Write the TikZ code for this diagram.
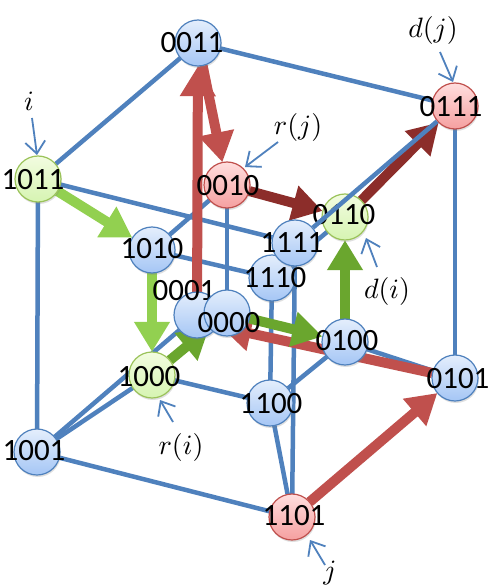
\documentclass[tikz,border=0pt]{standalone}
\usepackage{fontspec}
\newfontfamily\labfont{Carlito}
\usetikzlibrary{arrows.meta,shadows}
\definecolor{eblue}{RGB}{79,129,189}
\definecolor{ered}{RGB}{192,80,77}
\definecolor{edred}{RGB}{140,45,42}
\definecolor{elgreen}{RGB}{146,208,80}
\definecolor{edgreen}{RGB}{106,166,46}
\definecolor{bnTop}{RGB}{228,238,252}
\definecolor{bnBot}{RGB}{165,198,245}
\definecolor{gnTop}{RGB}{242,252,224}
\definecolor{gnBot}{RGB}{214,244,178}
\definecolor{gnLine}{RGB}{155,195,90}
\definecolor{rnTop}{RGB}{255,222,222}
\definecolor{rnBot}{RGB}{245,160,160}
\newcommand\hcnode[6]{\node[#2] (n#1) at (#3,#4) {}; \node[lbl] (t#1) at (#5,#6) {#1};}
\begin{document}
\begin{tikzpicture}[x=1pt,y=-1pt,
  nd/.style={circle, minimum size=46pt, inner sep=0pt, line width=1.2pt,
    drop shadow={opacity=0.25, shadow xshift=0.8pt, shadow yshift=-2pt}},
  bn/.style={nd, draw=eblue, top color=bnTop, bottom color=bnBot},
  gn/.style={nd, draw=gnLine, top color=gnTop, bottom color=gnBot},
  rn/.style={nd, draw=ered, top color=rnTop, bottom color=rnBot},
  lbl/.style={font=\labfont\fontsize{31}{31}\selectfont, inner sep=0pt, text=black},
  mlbl/.style={scale=2.8, inner sep=0pt},
  edge/.style={draw=eblue, line width=4.5pt},
  fat/.style={line width=10pt, -{Triangle[length=30pt,width=34pt]}},
  redarr/.style={fat, draw=ered},
  dredarr/.style={fat, draw=edred},
  lgarr/.style={fat, draw=elgreen},
  dgarr/.style={fat, draw=edgreen},
  ann/.style={draw=eblue, line width=1.8pt, -{Straight Barb[length=12pt,width=20pt]}}
]
\useasboundingbox[fill=white] (0,0) rectangle (491,588);
% invisible placeholder nodes for edge routing
\begin{scope}[every node/.style={circle, minimum size=46pt, inner sep=0pt}]
\node (e0011) at (198,43) {};
\node (e0111) at (455,106) {};
\node (e1011) at (38,179) {};
\node (e0010) at (227,185) {};
\node (e0110) at (345,217) {};
\node (e1111) at (295,243) {};
\node (e1010) at (152,250) {};
\node (e1110) at (272,278) {};
\node (e0001) at (197,315) {};
\node (e0000) at (227,313) {};
\node (e0100) at (345,342) {};
\node (e1000) at (152,375) {};
\node (e0101) at (455,378) {};
\node (e1100) at (270,403) {};
\node (e1001) at (37,452) {};
\node (e1101) at (292,517) {};
\end{scope}
\coordinate (rtip) at (221,327);
% blue edges
\draw[edge] (e0011) -- (e0111);
\draw[edge] (e0011) -- (e1011);
\draw[edge] (e1011) -- (e1111);
\draw[edge] (e0111) -- (e0101);
\draw[edge] (e1011) -- (e1001);
\draw[edge] (e1111) -- (e1101);
\draw[edge] (e1001) -- (e0001);
\draw[edge] (e1001) -- (e1101);
\draw[edge] (e0010) -- (e0000);
\draw[edge] (e0010) -- (e1010);
\draw[edge] (e1000) -- (e1100);
\draw[edge] (e1010) -- (e1110);
\draw[edge] (e1110) -- (e1100);
\draw[edge] (e0110) -- (e1110);
\draw[edge] (e0100) -- (e0101);
\draw[edge] (e1000) -- (e1001);
\draw[edge] (e1100) -- (e1101);
\draw[edge] (e0100) -- (e1100);
% thick arrows
\draw[redarr] (e1101) -- (e0101);
\draw[redarr] (e0101) -- (rtip);
\draw[redarr] (e0001) -- (e0011);
\draw[redarr] (e0011) -- (e0010);
\draw[dredarr] (e0010) -- (e0110);
\draw[dredarr] (e0110) -- (e0111);
\draw[lgarr] (e1011) -- (e1010);
\draw[lgarr] (e1010) -- (e1000);
\draw[dgarr] (e1000) -- (e0000);
\draw[dgarr] (e0000) -- (e0100);
\draw[dgarr] (e0100) -- (e0110);
% visible nodes
\hcnode{0011}{bn}{198}{43}{192}{43}
\hcnode{0111}{rn}{455}{106}{451}{107}
\hcnode{1011}{gn}{38}{179}{33}{180}
\hcnode{0010}{rn}{227}{185}{228}{186}
\hcnode{0110}{gn}{345}{217}{344}{215}
\hcnode{1010}{bn}{152}{250}{152}{249}
\hcnode{1110}{bn}{272}{278}{275}{278}
\hcnode{1111}{bn}{295}{243}{292}{243}
\hcnode{0001}{bn}{197}{315}{184}{291}
\hcnode{0000}{bn}{227}{313}{229}{323}
\hcnode{0100}{bn}{345}{342}{347}{341}
\hcnode{1000}{gn}{152}{375}{149}{377}
\hcnode{0101}{bn}{455}{378}{458}{379}
\hcnode{1100}{bn}{270}{403}{271}{404}
\hcnode{1001}{bn}{37}{452}{34}{451}
\hcnode{1101}{rn}{292}{517}{294}{516}
% edge drawn over node 0110
\draw[edge] (n1111) -- (n0111);
% annotations
\node[mlbl] (li) at (29,101) {$i$};
\node[mlbl] (ldj) at (433,31) {$d(j)$};
\node[mlbl] (lrj) at (298,128) {$r(j)$};
\node[mlbl] (ldi) at (387,291) {$d(i)$};
\node[mlbl] (lri) at (181,447) {$r(i)$};
\node[mlbl] (lj) at (330,573) {$j$};
\coordinate (ai1) at (32,118); \coordinate (ai2) at (37,155);
\coordinate (adj1) at (440,52); \coordinate (adj2) at (453,82);
\coordinate (arj1) at (278,142); \coordinate (arj2) at (245,167);
\coordinate (adi1) at (377,267); \coordinate (adi2) at (366,238);
\coordinate (ari1) at (173,422); \coordinate (ari2) at (160,400);
\coordinate (aj1) at (325,565); \coordinate (aj2) at (310,540);
\draw[ann] (ai1) -- (ai2);
\draw[ann] (adj1) -- (adj2);
\draw[ann] (arj1) -- (arj2);
\draw[ann] (adi1) -- (adi2);
\draw[ann] (ari1) -- (ari2);
\draw[ann] (aj1) -- (aj2);
\end{tikzpicture}
\end{document}
